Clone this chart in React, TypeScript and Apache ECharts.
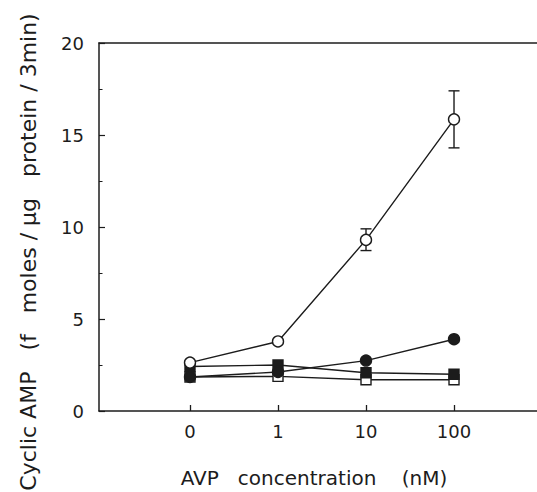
import React, { useEffect, useRef } from "react";
import * as echarts from "echarts";

const xLabels = ["0", "1", "10", "100"];
const xPositions = [0, 1, 2, 3];
const openCircle = [2.63, 3.78, 9.3, 15.85];
const openCircleLow = [2.55, 3.7, 8.72, 14.3];
const openCircleHigh = [2.71, 3.86, 9.9, 17.4];
const filledCircle = [1.85, 2.12, 2.74, 3.9];
const filledSquare = [2.42, 2.5, 2.08, 2.0];
const openSquare = [1.85, 1.88, 1.7, 1.7];
const yTitle = "Cyclic AMP   (f   moles / µg   protein / 3min)";
const xTitle = "AVP   concentration    (nM)";

const INK = "#1c1c1c";
const FONT = "DejaVu Sans";

export default function App() {
  const ref = useRef<HTMLDivElement>(null);
  useEffect(() => {
    if (!ref.current) return;
    const chart = echarts.init(ref.current, undefined, { renderer: "svg" });
    const pts = (vals: number[]) => xPositions.map((x, i) => [x, vals[i]]);
    const lineSeries = (
      name: string,
      vals: number[],
      symbol: string,
      size: number,
      filled: boolean,
      z: number
    ) => ({
      name,
      type: "line",
      data: pts(vals),
      symbol,
      symbolSize: size,
      showSymbol: true,
      z,
      lineStyle: { color: INK, width: 1.4 },
      itemStyle: {
        color: filled ? INK : "#ffffff",
        borderColor: INK,
        borderWidth: 1.4,
      },
      emphasis: { disabled: true },
    });
    chart.setOption({
      animation: false,
      backgroundColor: "#ffffff",
      grid: { left: 99, top: 43, right: 0, bottom: 81 },
      xAxis: [
        {
          type: "value",
          min: -1.034,
          max: 3.943,
          axisLine: { show: true, onZero: false, lineStyle: { color: INK, width: 1.5 } },
          axisTick: {
            show: true,
            inside: true,
            length: 6,
            customValues: xPositions,
            lineStyle: { color: INK, width: 1.3 },
          },
          axisLabel: {
            customValues: xPositions,
            formatter: (v: number) => xLabels[Math.round(v)] ?? "",
            fontFamily: FONT,
            fontSize: 18,
            color: INK,
            margin: 11,
          },
          splitLine: { show: false },
        },
        {
          type: "value",
          position: "top",
          min: -1.034,
          max: 3.943,
          axisLine: { show: true, onZero: false, lineStyle: { color: INK, width: 1.5 } },
          axisTick: { show: false },
          axisLabel: { show: false },
          splitLine: { show: false },
        },
      ],
      yAxis: {
        type: "value",
        min: 0,
        max: 20,
        interval: 5,
        axisLine: { show: true, onZero: false, lineStyle: { color: INK, width: 1.5 } },
        axisTick: { show: true, inside: true, length: 6, lineStyle: { color: INK, width: 1.2 } },
        minorTick: { show: true, splitNumber: 2, length: 3.5, lineStyle: { color: INK, width: 1 } },
        axisLabel: { fontFamily: FONT, fontSize: 18, color: INK, margin: 15 },
        splitLine: { show: false },
      },
      graphic: [
        {
          type: "text",
          x: 28,
          y: 252,
          rotation: Math.PI / 2,
          style: {
            text: yTitle,
            fontFamily: FONT,
            fontSize: 22,
            fill: INK,
            align: "center",
            verticalAlign: "middle",
          },
        },
        {
          type: "text",
          x: 314,
          y: 478,
          style: {
            text: xTitle,
            fontFamily: FONT,
            fontSize: 20,
            fill: INK,
            align: "center",
            verticalAlign: "middle",
          },
        },
      ],
      series: [
        {
          type: "custom",
          name: "error",
          z: 1,
          data: xPositions.map((x, i) => [x, openCircleLow[i], openCircleHigh[i]]),
          encode: { x: 0, y: [1, 2] },
          renderItem: (params: any, api: any) => {
            const x = api.value(0);
            const lo = api.coord([x, api.value(1)]);
            const hi = api.coord([x, api.value(2)]);
            const cap = 5.5;
            const style = { stroke: INK, lineWidth: 1.4 };
            return {
              type: "group",
              children: [
                { type: "line", shape: { x1: lo[0], y1: lo[1], x2: hi[0], y2: hi[1] }, style },
                { type: "line", shape: { x1: lo[0] - cap, y1: lo[1], x2: lo[0] + cap, y2: lo[1] }, style },
                { type: "line", shape: { x1: hi[0] - cap, y1: hi[1], x2: hi[0] + cap, y2: hi[1] }, style },
              ],
            };
          },
        },
        lineSeries("open square", openSquare, "rect", 10, false, 2),
        lineSeries("filled square", filledSquare, "rect", 10, true, 3),
        lineSeries("filled circle", filledCircle, "circle", 11, true, 4),
        lineSeries("open circle", openCircle, "circle", 11, false, 5),
      ],
    });
    return () => chart.dispose();
  }, []);
  return (
    <div
      ref={ref}
      style={{ position: "fixed", left: 0, top: 0, width: 537, height: 492, background: "#fff" }}
    />
  );
}
